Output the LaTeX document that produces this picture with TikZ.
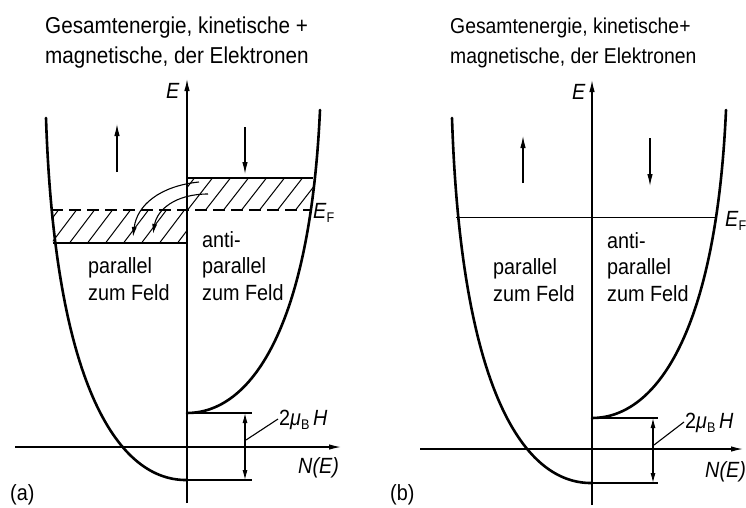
\documentclass[tikz,border=0pt]{standalone}
\usepackage{fontspec}
\setmainfont[FakeStretch=0.9]{Liberation Sans}
\usetikzlibrary{arrows.meta}
\begin{document}
\begin{tikzpicture}[x=1pt,y=-1pt,
  curve/.style={line width=2.6pt,line cap=round},
  axis/.style={line width=1.3pt},
  thinline/.style={line width=1.1pt},
  hatchline/.style={line width=1pt},
  tipE/.style={-{Latex[length=12pt,width=5.5pt]}},
  tipS/.style={-{Latex[length=12pt,width=5.5pt]}},
  tipC/.style={-{Latex[length=10pt,width=5pt]}},
  tipD/.style={{Latex[length=10pt,width=5pt]}-{Latex[length=10pt,width=5pt]}},
  txt/.style={inner sep=0pt,anchor=base west,font=\fontsize{22}{26}\selectfont},
  ttl/.style={inner sep=0pt,anchor=base west,font=\fontsize{23}{27}\selectfont},
  ttlb/.style={inner sep=0pt,anchor=base west,font=\fontsize{21.5}{25}\selectfont},
  sym/.style={inner sep=0pt,anchor=base west,font=\fontsize{22}{26}\selectfont\itshape}]
\fill[white] (0,0) rectangle (746,507);
\useasboundingbox (0,0) rectangle (746,507);

% ================= panel (a) =================
\node[ttl] (aT1) at (45,33) {Gesamtenergie, kinetische +};
\node[ttl] (aT2) at (45,63) {magnetische, der Elektronen};

% hatched bands
\begin{scope}
  \clip (187,178) -- (314,178) -- (311,210) -- (187,210) -- cycle;
  \foreach \k in {150,168,...,340} \draw[hatchline] (\k,212) -- (\k+28,176);
\end{scope}
\begin{scope}
  \clip (51,210) -- (187,210) -- (187,243) -- (53,243) -- cycle;
  \foreach \k in {14,32,...,200} \draw[hatchline] (\k,245) -- (\k+28,208);
\end{scope}
\coordinate (aRb1) at (187,178); \coordinate (aRb2) at (313,178);
\coordinate (aLb1) at (53,243);  \coordinate (aLb2) at (187,243);
\coordinate (aF1) at (51,210);   \coordinate (aF2) at (310,210);
\draw[thinline] (aRb1) -- (aRb2);
\draw[thinline] (aLb1) -- (aLb2);
\draw[thinline,dash pattern=on 12pt off 6pt] (aF1) -- (aF2);

% axes
\coordinate (aEb) at (187,503); \coordinate (aEt) at (187,79);
\coordinate (aNl) at (15,447);  \coordinate (aNr) at (341,447);
\draw[axis,tipE] (aEb) -- (aEt);
\draw[axis,tipE] (aNl) -- (aNr);
\node[sym] (aE) at (166,98) {E};
\node[sym] (aN) at (298,473) {N(E)};

% curves
\coordinate (aLt) at (46,118); \coordinate (aLv) at (187,480);
\coordinate (aRt) at (320,110); \coordinate (aRv) at (187,413);
\draw[curve] (aLt) .. controls (55,390) and (120,481) .. (aLv);
\draw[curve] (aRt) .. controls (310,330) and (250,413) .. (aRv);

% spin arrows
\coordinate (aU1) at (117,172); \coordinate (aU2) at (117,124);
\coordinate (aD1) at (245,127); \coordinate (aD2) at (245,174);
\draw[thinline,tipS] (aU1) -- (aU2);
\draw[thinline,tipS] (aD1) -- (aD2);

% transfer arrows
\coordinate (aC1s) at (199,182); \coordinate (aC1e) at (133,237);
\coordinate (aC2s) at (208,194); \coordinate (aC2e) at (153,234);
\draw[thinline,tipC] (aC1s) .. controls (160,186) and (137,205) .. (aC1e);
\draw[thinline,tipC] (aC2s) .. controls (175,194) and (157,210) .. (aC2e);

\node[txt] (aEF) at (313,218) {\textit{E}\raisebox{-4pt}{\fontsize{14}{14}\selectfont F}};

% labels
\node[txt] (aP1) at (88,273) {parallel};
\node[txt] (aP2) at (88,300) {zum Feld};
\node[txt] (aA1) at (202,247) {anti-};
\node[txt] (aA2) at (202,273) {parallel};
\node[txt] (aA3) at (202,300) {zum Feld};

% splitting
\coordinate (aV1) at (187,413); \coordinate (aV1r) at (252,413);
\coordinate (aV2) at (187,480); \coordinate (aV2r) at (252,480);
\coordinate (aM1) at (245,413); \coordinate (aM2) at (245,480);
\coordinate (aL1) at (246,440); \coordinate (aL2) at (278,419);
\draw[thinline] (aV1) -- (aV1r);
\draw[thinline] (aV2) -- (aV2r);
\draw[thinline,tipD] (aM1) -- (aM2);
\draw[thinline] (aL1) -- (aL2);
\node[txt] (aMu) at (279,425) {2\textit{μ}\raisebox{-4pt}{\fontsize{14}{14}\selectfont B}\,\textit{H}};

\node[txt] (aLab) at (10,500) {(a)};

% ================= panel (b) =================
\node[ttlb] (bT1) at (450,33) {Gesamtenergie, kinetische+};
\node[ttlb] (bT2) at (450,63) {magnetische, der Elektronen};

\coordinate (bF1) at (456,217); \coordinate (bF2) at (716,217);
\draw[line width=0.9pt] (bF1) -- (bF2);

\coordinate (bEb) at (592,505); \coordinate (bEt) at (592,80);
\coordinate (bNl) at (420,449); \coordinate (bNr) at (743,449);
\draw[axis,tipE] (bEb) -- (bEt);
\draw[axis,tipE] (bNl) -- (bNr);
\node[sym] (bE) at (572,99) {E};
\node[sym] (bN) at (705,477) {N(E)};

\coordinate (bLt) at (452,118); \coordinate (bLv) at (592,483);
\coordinate (bRt) at (726,110); \coordinate (bRv) at (592,418);
\draw[curve] (bLt) .. controls (461,393) and (525,484) .. (bLv);
\draw[curve] (bRt) .. controls (716,335) and (655,418) .. (bRv);

\coordinate (bU1) at (523,183); \coordinate (bU2) at (523,136);
\coordinate (bD1) at (650,138); \coordinate (bD2) at (650,186);
\draw[thinline,tipS] (bU1) -- (bU2);
\draw[thinline,tipS] (bD1) -- (bD2);

\node[txt] (bEF) at (725,226) {\textit{E}\raisebox{-4pt}{\fontsize{14}{14}\selectfont F}};

\node[txt] (bP1) at (493,274) {parallel};
\node[txt] (bP2) at (493,301) {zum Feld};
\node[txt] (bA1) at (607,248) {anti-};
\node[txt] (bA2) at (607,274) {parallel};
\node[txt] (bA3) at (607,301) {zum Feld};

\coordinate (bV1) at (592,418); \coordinate (bV1r) at (658,418);
\coordinate (bV2) at (592,483); \coordinate (bV2r) at (658,483);
\coordinate (bM1) at (653,418); \coordinate (bM2) at (653,483);
\coordinate (bL1) at (654,445); \coordinate (bL2) at (684,422);
\draw[thinline] (bV1) -- (bV1r);
\draw[thinline] (bV2) -- (bV2r);
\draw[thinline,tipD] (bM1) -- (bM2);
\draw[thinline] (bL1) -- (bL2);
\node[txt] (bMu) at (685,428) {2\textit{μ}\raisebox{-4pt}{\fontsize{14}{14}\selectfont B}\,\textit{H}};

\node[txt] (bLab) at (390,500) {(b)};
\end{tikzpicture}
\end{document}
